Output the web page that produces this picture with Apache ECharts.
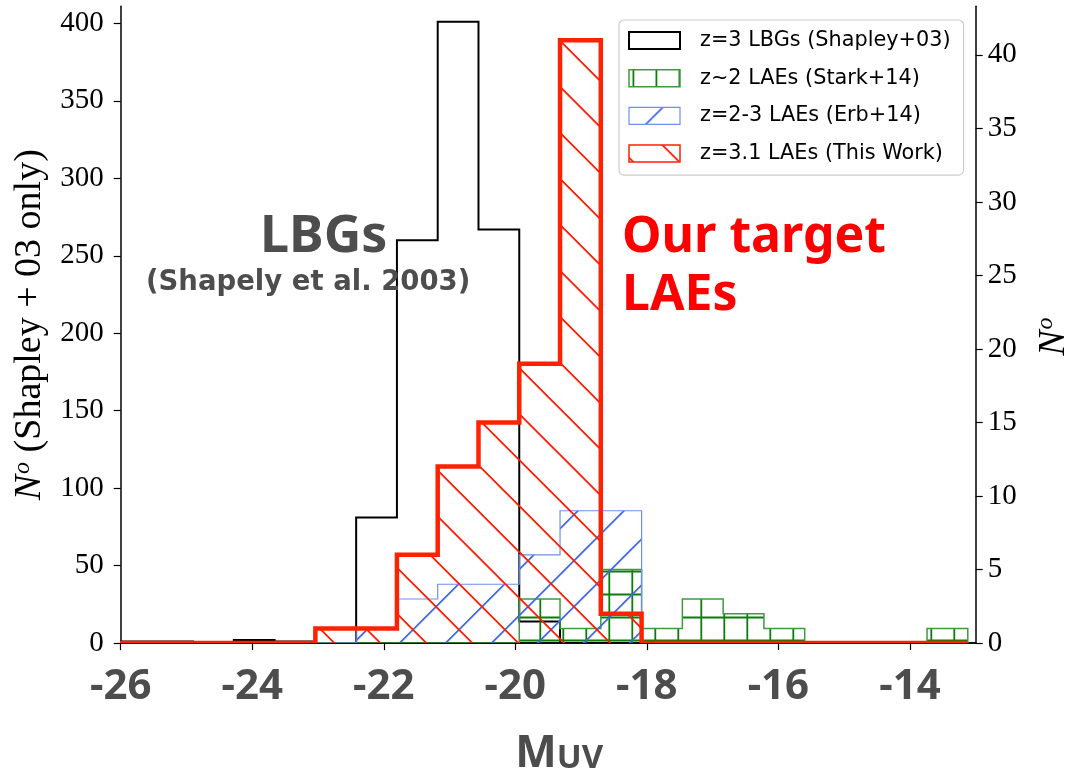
<!DOCTYPE html>
<html>
<head>
<meta charset="utf-8">
<script src="https://cdn.jsdelivr.net/npm/echarts@6/dist/echarts.min.js"></script>
<style>
	html, body {margin: 0; padding: 0; background: #fff;}
	#chart {width: 1072px; height: 773px;}
</style>
</head>
<body>
<div id="chart"></div>
<script>
	// histogram bin edges in M_UV (21 bins)
	var binEdges = [-26.14, -25.52, -24.90, -24.28, -23.66, -23.04, -22.42, -21.80, -21.18, -20.56,
		-19.94, -19.32, -18.70, -18.08, -17.46, -16.84, -16.22, -15.60, -14.98, -14.36, -13.74, -13.12]
	// counts per bin
	var lbgShapley = [1, 1, 0, 2, 1, 0, 81, 260, 401, 267, 14, 0, 0, 0, 0, 0, 0, 0, 0, 0, 0]
	var laeStark = [0, 0, 0, 0, 0, 0, 0, 0, 0, 0, 3, 1, 5, 1, 3, 2, 1, 0, 0, 0, 1]
	var laeErb = [0, 0, 0, 0, 0, 0, 1, 3, 4, 4, 6, 9, 9, 0, 0, 0, 0, 0, 0, 0, 0]
	var laeThisWork = [0, 0, 0, 0, 0, 1, 1, 6, 12, 15, 19, 41, 2, 0, 0, 0, 0, 0, 0, 0, 0]

	var seriesNames = ['z=3 LBGs (Shapley+03)', 'z∼2 LAEs (Stark+14)', 'z=2-3 LAEs (Erb+14)', 'z=3.1 LAEs (This Work)']
	var xTicks = [-26, -24, -22, -20, -18, -16, -14]
	var leftTicks = [0, 50, 100, 150, 200, 250, 300, 350, 400]
	var rightTicks = [0, 5, 10, 15, 20, 25, 30, 35, 40]

	var GRAY = '#4d4d4d'

	// hatch tile; the pattern is anchored to the origin of the element drawing it
	function hatch(kind, color, lw, size, px, py) {
		var c = document.createElement('canvas')
		c.width = size
		c.height = size
		var ctx = c.getContext('2d')
		ctx.strokeStyle = color
		ctx.lineWidth = lw
		ctx.beginPath()
		for (var k = -2; k <= 2; k++) {
			var o = px + k * size
			if (kind === 'back') {        // '\\'  x - y = o
				ctx.moveTo(o - size, -size); ctx.lineTo(o + 2 * size, 2 * size)
			} else if (kind === 'fwd') {  // '/'   x + y = o
				ctx.moveTo(o + size, -size); ctx.lineTo(o - 2 * size, 2 * size)
			} else {                      // '+'
				ctx.moveTo(o, -size); ctx.lineTo(o, 2 * size)
				var q = py + k * size
				ctx.moveTo(-size, q); ctx.lineTo(2 * size, q)
			}
		}
		ctx.stroke()
		return {image: c, repeat: 'repeat'}
	}

	var patNone = 'rgba(0,0,0,0)'
	var patGreen = hatch('grid', '#0a7d0a', 1.8, 23, 11.3, 19.5)
	var patBlue = hatch('fwd', '#4169e1', 1.8, 46, 30.7, 0)
	var patRed = hatch('back', '#ff1a00', 1.8, 46, 13.3, 0)
	// legend icons draw in their own local frame, so they get their own phase
	var iconGreen = hatch('grid', '#0a7d0a', 1.8, 23, 4.4, 20.8)
	var iconBlue = hatch('fwd', '#4169e1', 1.8, 46, 33.7, 0)
	var iconRed = hatch('back', '#ff1a00', 1.8, 46, 33.4, 0)

	function histSeries(name, counts, yIndex, pat, stroke, width, z) {
		return {
			name: name,
			type: 'custom',
			coordinateSystem: 'cartesian2d',
			yAxisIndex: yIndex,
			clip: true,
			z: z,
			data: [[-20, 0]],
			itemStyle: {color: pat, borderColor: stroke, borderWidth: width},
			renderItem: function (params, api) {
				var pts = [api.coord([binEdges[0], 0])]
				for (var i = 0; i < counts.length; i++) {
					pts.push(api.coord([binEdges[i], counts[i]]))
					pts.push(api.coord([binEdges[i + 1], counts[i]]))
				}
				pts.push(api.coord([binEdges[binEdges.length - 1], 0]))
				return {
					type: 'group',
					children: [
						{type: 'polygon', shape: {points: pts}, style: {fill: pat, stroke: null}},
						{type: 'polyline', shape: {points: pts}, style: {fill: null, stroke: stroke, lineWidth: width, lineJoin: 'miter'}}
					]
				}
			}
		}
	}

	var serifLabel = {fontFamily: 'Liberation Serif', fontSize: 29, color: '#000'}
	var nameRich = {
		n: {fontFamily: 'Liberation Serif', fontStyle: 'italic', fontSize: 38, color: '#000', verticalAlign: 'bottom'},
		o: {fontFamily: 'Liberation Serif', fontStyle: 'italic', fontSize: 24, color: '#000', verticalAlign: 'bottom', padding: [0, 0, 15, 1]},
		t: {fontFamily: 'Liberation Serif', fontSize: 38, color: '#000', verticalAlign: 'bottom'}
	}

	var chart = echarts.init(document.getElementById('chart'))
	chart.setOption({
		backgroundColor: '#fff',
		animation: false,
		grid: {left: 120.7, right: 96.3, top: 6.3, bottom: 129.9, containLabel: false, outerBoundsMode: 'none'},
		legend: {
			orient: 'vertical',
			left: 619,
			top: 20,
			padding: [10, 13, 11, 9],
			itemWidth: 51,
			itemHeight: 17,
			itemGap: 16.7,
			icon: 'rect',
			backgroundColor: 'rgba(255,255,255,0.9)',
			borderColor: '#cccccc',
			borderWidth: 1.2,
			borderRadius: 5,
			textStyle: {fontFamily: 'DejaVu Sans', fontSize: 20.8, lineHeight: 20, color: '#000', padding: [0, 0, 0, 15]},
			data: [
				{name: seriesNames[0], itemStyle: {color: patNone, borderColor: '#000', borderWidth: 2}},
				{name: seriesNames[1], itemStyle: {color: iconGreen, borderColor: '#3c9c3c', borderWidth: 1.5}},
				{name: seriesNames[2], itemStyle: {color: iconBlue, borderColor: '#6f8ff0', borderWidth: 1.2}},
				{name: seriesNames[3], itemStyle: {color: iconRed, borderColor: '#ff2200', borderWidth: 1.5}}
			]
		},
		xAxis: [{
			type: 'value',
			min: -26,
			max: -13,
			splitLine: {show: false},
			axisLine: {lineStyle: {color: '#000', width: 1.5}},
			axisTick: {length: 7, lineStyle: {color: '#000', width: 1.2}, customValues: xTicks},
			axisLabel: {customValues: xTicks, margin: 23, fontFamily: 'Noto Sans', fontWeight: 'bold', fontSize: 42, color: GRAY},
			name: '{m|M}{u|UV}',
			nameLocation: 'middle',
			nameGap: 89,
			nameTextStyle: {
				padding: [0, 0, 0, 22],
				rich: {
					m: {fontFamily: 'Noto Sans', fontWeight: 'bold', fontSize: 44, color: GRAY, verticalAlign: 'bottom'},
					u: {fontFamily: 'Noto Sans', fontWeight: 'bold', fontSize: 33, color: GRAY, verticalAlign: 'bottom', padding: [0, 0, 1, 0]}
				}
			}
		}, {
			type: 'value',
			position: 'top',
			min: -26,
			max: -13,
			splitLine: {show: false},
			axisLine: {lineStyle: {color: '#000', width: 1.5}},
			axisTick: {show: false},
			axisLabel: {show: false}
		}],
		yAxis: [{
			type: 'value',
			min: 0,
			max: 411,
			splitLine: {show: false},
			axisLine: {show: true, lineStyle: {color: '#000', width: 1.5}},
			axisTick: {show: true, length: 7, lineStyle: {color: '#000', width: 1.2}, customValues: leftTicks},
			axisLabel: Object.assign({customValues: leftTicks, margin: 17}, serifLabel),
			name: '{n|N}{o|o}{t| (Shapley + 03 only)}',
			nameLocation: 'middle',
			nameGap: 70,
			nameTextStyle: {rich: nameRich}
		}, {
			type: 'value',
			position: 'right',
			min: 0,
			max: 43.3,
			splitLine: {show: false},
			axisLine: {show: true, lineStyle: {color: '#000', width: 1.5}},
			axisTick: {show: true, length: 7, lineStyle: {color: '#000', width: 1.2}, customValues: rightTicks},
			axisLabel: Object.assign({customValues: rightTicks, margin: 12}, serifLabel),
			name: '{n|N}{o|o}',
			nameLocation: 'middle',
			nameGap: 58,
			nameRotate: 90,
			nameTextStyle: {rich: nameRich, padding: [0, 24, 0, 0]}
		}],
		series: [
			histSeries(seriesNames[0], lbgShapley, 0, patNone, '#000', 2, 2),
			histSeries(seriesNames[1], laeStark, 1, patGreen, '#3c9c3c', 1.5, 3),
			histSeries(seriesNames[2], laeErb, 1, patBlue, '#6f8ff0', 1.2, 4),
			histSeries(seriesNames[3], laeThisWork, 1, patRed, '#ff2200', 4.5, 5)
		],
		graphic: [
			{type: 'text', left: 260, top: 211, z: 10, style: {text: 'LBGs', fontFamily: 'Noto Sans', fontWeight: 'bold', fontSize: 52, fill: GRAY}},
			{type: 'text', left: 146, top: 269, z: 10, style: {text: '(Shapely et al. 2003)', fontFamily: 'DejaVu Sans', fontWeight: 'bold', fontSize: 27.5, fill: GRAY}},
			{type: 'text', left: 622, top: 213, z: 10, style: {text: 'Our target', fontFamily: 'Noto Sans', fontWeight: 'bold', fontSize: 50, fill: '#ff0000'}},
			{type: 'text', left: 622, top: 271, z: 10, style: {text: 'LAEs', fontFamily: 'Noto Sans', fontWeight: 'bold', fontSize: 50, fill: '#ff0000'}}
		]
	})
</script>
</body>
</html>
